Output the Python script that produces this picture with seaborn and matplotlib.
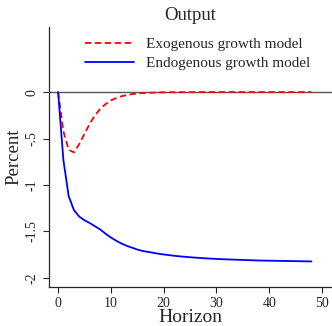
import numpy as np
import pandas as pd
import seaborn as sns
import matplotlib.pyplot as plt

# impulse responses of output (percent), horizons 0..48
horizon = list(range(49))
exogenous = [0, -0.42, -0.62, -0.65, -0.56, -0.45, -0.34, -0.25, -0.18, -0.13,
             -0.09, -0.065, -0.045, -0.032, -0.022, -0.015, -0.011, -0.008, -0.006, -0.004,
             -0.003, -0.002, -0.002, -0.001, -0.001, -0.001, -0.001, 0, 0, 0,
             0, 0, 0, 0, 0, 0, 0, 0, 0, 0,
             0, 0, 0, 0, 0, 0, 0, 0, 0]
endogenous = [0, -0.73, -1.12, -1.27, -1.34, -1.38, -1.41, -1.445, -1.48, -1.525,
              -1.565, -1.60, -1.63, -1.655, -1.675, -1.695, -1.71, -1.72, -1.73, -1.74,
              -1.748, -1.755, -1.762, -1.768, -1.773, -1.778, -1.782, -1.786, -1.79, -1.793,
              -1.796, -1.799, -1.801, -1.803, -1.805, -1.807, -1.809, -1.811, -1.813, -1.814,
              -1.815, -1.816, -1.817, -1.818, -1.819, -1.82, -1.821, -1.822, -1.823]
series_names = ["Exogenous growth model", "Endogenous growth model"]
yticks = [0, -0.5, -1, -1.5, -2]
ytick_labels = ["0", "-.5", "-1", "-1.5", "-2"]
xticks = [0, 10, 20, 30, 40, 50]

sns.set_style("ticks")
plt.rcParams["font.family"] = ["Liberation Serif", "DejaVu Serif"]

fig = plt.figure(figsize=(3.32, 3.26), dpi=100)
ax = fig.add_axes([0.148, 0.12, 0.852, 0.797])

ax.axhline(0, color="#555555", lw=1.0, zorder=1)
sns.lineplot(x=horizon, y=exogenous, ax=ax, color="red", lw=1.3,
             linestyle=(0, (3.5, 2)), label=series_names[0])
sns.lineplot(x=horizon, y=endogenous, ax=ax, color="blue", lw=1.3,
             label=series_names[1])

ax.set_xlim(-1.7, 51.9)
ax.set_ylim(-2.097, 0.70)
ax.set_yticks(yticks)
ax.set_yticklabels(ytick_labels, rotation=90, va="center")
ax.set_xticks(xticks)
ax.tick_params(axis="both", labelsize=10, length=4, width=0.8, direction="out")
ax.set_xlabel("Horizon", fontsize=14, labelpad=-1)
ax.set_ylabel("Percent", fontsize=13.5, labelpad=2)
ax.set_title("Output", fontsize=13.5, pad=5)
for pos in ["top", "right"]:
    ax.spines[pos].set_visible(False)
for pos in ["left", "bottom"]:
    ax.spines[pos].set_linewidth(0.9)

ax.legend(loc="upper left", bbox_to_anchor=(0.09, 1.0), frameon=False,
          fontsize=11, handlelength=3.2, handletextpad=0.8, labelspacing=0.35,
          borderaxespad=0.3)

fig.savefig("out.png", dpi=100)
